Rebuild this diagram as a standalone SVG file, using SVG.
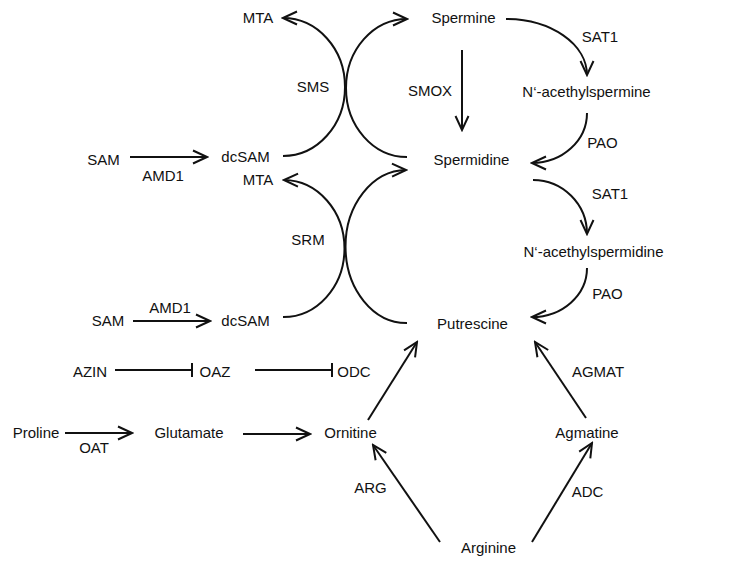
<svg xmlns="http://www.w3.org/2000/svg" width="744" height="566" viewBox="0 0 744 566">
<defs>
<style>
text{font-family:"Liberation Sans",Arial,sans-serif;font-size:15px;fill:#111;text-anchor:middle}
.c{fill:none;stroke:#111;stroke-width:2}
.a{marker-end:url(#arr)}
</style>
<marker id="arr" markerUnits="userSpaceOnUse" viewBox="0 0 18 16" refX="16" refY="8" markerWidth="18" markerHeight="16" orient="auto">
<path d="M2,1.5 L16,8 L2,14.5" fill="none" stroke="#111" stroke-width="2"/>
</marker>
</defs>
<rect width="744" height="566" fill="#fff"/>
<g id="connectors">
<path class="c a" d="M283,156 A62 69 0 0 0 283,18"/>
<path class="c a" d="M407,157 A61 69 0 0 1 407,19"/>
<path class="c a" d="M283,317 A61 68.5 0 0 0 284,180"/>
<path class="c a" d="M407,323 A61 76.5 0 0 1 406,170"/>
<path class="c a" d="M506,19 A81 56 0 0 1 587,75"/>
<path class="c a" d="M587,113 A55 50 0 0 1 532,163"/>
<path class="c a" d="M533,180 A54 54 0 0 1 587,234"/>
<path class="c a" d="M587,268 A55 49 0 0 1 532,317"/>
<path class="c a" d="M462,50 L462,130"/>
<path class="c a" d="M130,157 L207,157"/>
<path class="c a" d="M133,321 L210,321"/>
<path class="c" d="M115,370 L192,370 M192,363 L192,377"/>
<path class="c" d="M255,370 L332,370 M332,363 L332,377"/>
<path class="c a" d="M65,433 L132,433"/>
<path class="c a" d="M243,434 L310,434"/>
<path class="c a" d="M368,420 L417,342"/>
<path class="c a" d="M586,418 L535,342"/>
<path class="c a" d="M440,542 L373,445"/>
<path class="c a" d="M532,542 L592,443"/>
</g>
<g id="n-mta1"><text x="258" y="23">MTA</text></g>
<g id="n-spermine"><text x="463.5" y="23">Spermine</text></g>
<g id="l-sat1a"><text x="600" y="42">SAT1</text></g>
<g id="l-sms"><text x="313" y="92">SMS</text></g>
<g id="l-smox"><text x="430" y="96">SMOX</text></g>
<g id="n-acspermine"><text x="586.5" y="97">N‘-acethylspermine</text></g>
<g id="l-pao1"><text x="602.5" y="148">PAO</text></g>
<g id="n-spermidine"><text x="471.5" y="165">Spermidine</text></g>
<g id="n-dcsam1"><text x="245.5" y="162">dcSAM</text></g>
<g id="n-sam1"><text x="103.5" y="165">SAM</text></g>
<g id="l-amd1a"><text x="163" y="181">AMD1</text></g>
<g id="n-mta2"><text x="258" y="185">MTA</text></g>
<g id="l-sat1b"><text x="610" y="199">SAT1</text></g>
<g id="l-srm"><text x="308" y="245">SRM</text></g>
<g id="n-acspermidine"><text x="593.5" y="257">N‘-acethylspermidine</text></g>
<g id="l-pao2"><text x="607.5" y="299">PAO</text></g>
<g id="l-amd1b"><text x="170" y="313">AMD1</text></g>
<g id="n-sam2"><text x="108" y="326">SAM</text></g>
<g id="n-dcsam2"><text x="245.5" y="326">dcSAM</text></g>
<g id="n-putrescine"><text x="472.5" y="329">Putrescine</text></g>
<g id="n-azin"><text x="90" y="377">AZIN</text></g>
<g id="n-oaz"><text x="215" y="377">OAZ</text></g>
<g id="n-odc"><text x="354" y="377">ODC</text></g>
<g id="l-agmat"><text x="598" y="377">AGMAT</text></g>
<g id="n-proline"><text x="36" y="438">Proline</text></g>
<g id="l-oat"><text x="94" y="453">OAT</text></g>
<g id="n-glutamate"><text x="189" y="438">Glutamate</text></g>
<g id="n-ornitine"><text x="350.5" y="438">Ornitine</text></g>
<g id="n-agmatine"><text x="587" y="438">Agmatine</text></g>
<g id="l-arg"><text x="370.5" y="493">ARG</text></g>
<g id="l-adc"><text x="587.5" y="497">ADC</text></g>
<g id="n-arginine"><text x="488.5" y="553">Arginine</text></g>
</svg>
